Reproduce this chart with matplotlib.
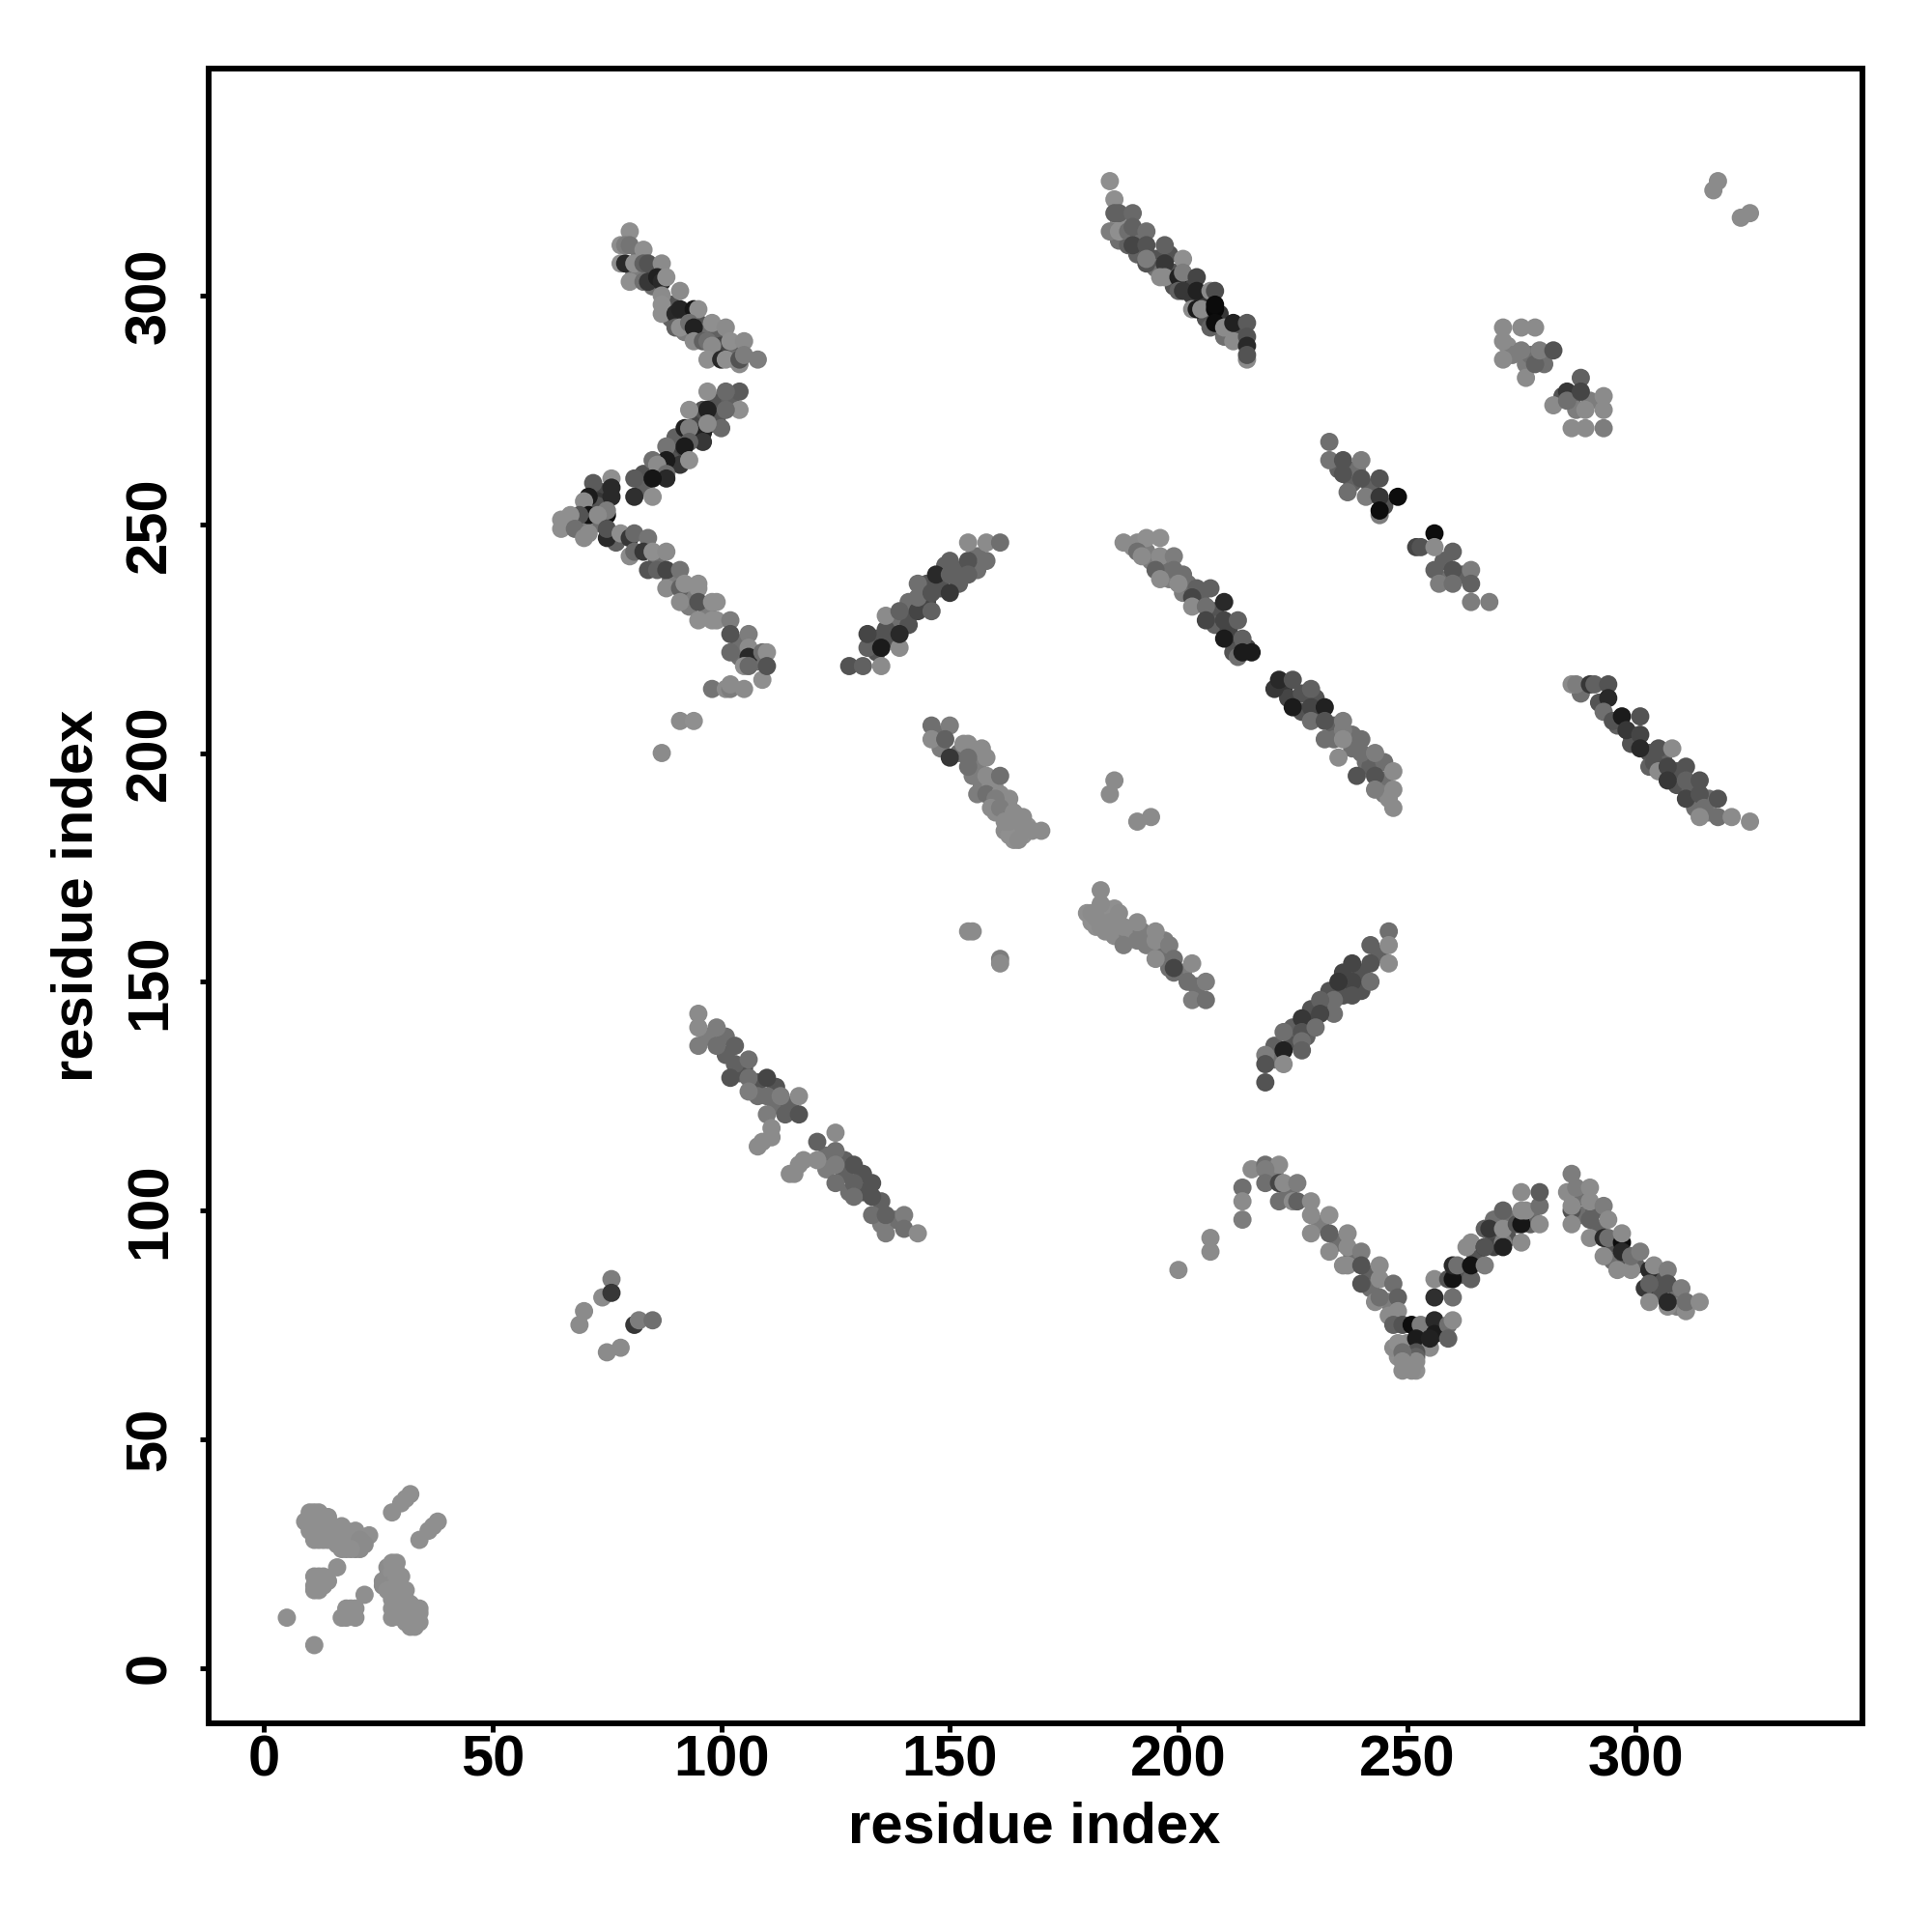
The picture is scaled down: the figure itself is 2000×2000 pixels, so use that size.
import numpy as np
import matplotlib
matplotlib.use("Agg")
import matplotlib.pyplot as plt

# contacts per block: (residue i, residue j, shade)
upper_branch = [
    (81,305,.4),(82,308,.4),(85,305,.3),(82,304,.45),(85,302,.4),(89,298,.3),(89,295,.35),(92,295,.3),(92,292,.45),
    (95,294,.3),(96,292,.4),(99,291,.35),(99,288,.4),(102,288,.35),(103,286,.4),
    (80,314,.55),(78,311,.55),(79,311,.45),(80,311,.42),(83,310,.55),(78,307,.55),(79,307,.15),(81,307,.55),
    (83,307,.35),(84,307,.3),(87,307,.5),(80,303,.55),(83,303,.4),(84,303,.2),(86,304,.12),(87,303,.15),(88,304,.55),
    (87,300,.5),(91,301,.5),(87,298,.52),(87,296,.52),(90,296,.15),(91,297,.13),(94,297,.08),(95,297,.55),
    (90,293,.35),(91,293,.55),(93,294,.4),(94,293,.12),(98,294,.52),(101,293,.5),(94,290,.5),(96,290,.35),(97,290,.4),
    (100,289,.25),(98,289,.5),(102,290,.55),(105,290,.5),(97,286,.55),(100,286,.15),(101,286,.55),(104,285,.5),
    (104,286,.3),(105,287,.45),(108,286,.45),
]
lower_branch = [
    (99,277,.3),(99,273,.3),(102,277,.35),(98,272,.3),(95,273,.25),(94,269,.25),(90,266,.25),(90,269,.35),(89,264,.3),
    (87,262,.25),(83,261,.3),(83,258,.35),(74,257,.25),(73,255,.2),(73,254,.3),(72,250,.35),(70,250,.45),(67,250,.55),
    (74,250,.4),(77,246,.35),
    (104,279,.33),(101,279,.38),(97,279,.52),(104,275,.52),(101,275,.38),(96,275,.3),(97,275,.12),(93,275,.52),
    (100,271,.38),(96,270,.12),(97,272,.5),(92,271,.12),(93,271,.45),(96,268,.2),(93,268,.35),(92,267,.1),(88,267,.42),
    (91,263,.2),(93,264,.52),(88,264,.1),(85,264,.4),(86,263,.5),(88,261,.4),(88,260,.15),(85,260,.08),(81,260,.33),
    (76,260,.52),(72,259,.33),(76,258,.15),(71,256,.1),(76,256,.15),(70,255,.5),(81,256,.17),(85,256,.52),
    (75,252,.05),(75,253,.45),(71,252,.07),(69,252,.3),(73,252,.5),(65,251,.55),(67,252,.55),(65,249,.55),
    (68,249,.4),(70,247,.5),(71,248,.5),(75,247,.15),(75,249,.3),(78,248,.55),(80,247,.2),(81,248,.38),(84,247,.42),
]
descending_tail = [
    (86,242,.4),(89,238,.4),(90,238,.45),(93,235,.45),(93,232,.45),(97,231,.45),(104,224,.4),(104,221,.4),(108,220,.4),
    (80,243,.5),(81,244,.38),(83,244,.2),(85,244,.52),(88,244,.5),(84,240,.3),(86,240,.35),(88,240,.25),(91,240,.42),
    (88,236,.5),(91,236,.35),(92,237,.55),(95,237,.55),(95,236,.55),(91,233,.5),(95,233,.3),(98,233,.55),(99,233,.55),
    (95,229,.52),(98,229,.52),(99,229,.52),(102,229,.45),(102,226,.3),(106,226,.45),(102,222,.38),(106,223,.5),
    (106,221,.15),(105,219,.55),(106,219,.38),(109,222,.4),(110,222,.52),(109,216,.52),(110,219,.3),
    (98,214,.42),(101,214,.5),(102,214,.45),(102,215,.5),(105,214,.5),(91,207,.5),(94,207,.52),(87,200,.5),
]
small_patch = [
    (74,81,.5),(76,85,.45),(76,82,.2),(70,78,.5),(69,75,.5),(75,69,.5),(78,70,.5),(81,75,.2),(82,76,.45),(85,76,.4),
]
left_blob = [
    (9,32,.55),(10,34,.55),(11,34,.55),(12,34,.55),(10,32,.55),(11,32,.55),(12,32,.55),(11,28,.55),(12,28,.55),
    (13,32,.55),(13,30,.55),(15,31,.55),(17,31,.55),(17,29,.55),(17,26,.55),(18,26,.55),(20,30,.55),(20,28,.5),
    (20,26,.5),(22,28,.55),(23,29,.55),(11,17,.55),(11,20,.55),(12,20,.55),(13,20,.55),(12,18,.55),(16,22,.55),
    (5,11,.55),(11,5,.55),(17,11,.55),(18,11,.55),(18,13,.55),(20,13,.55),(20,11,.55),(22,16,.55),
    (28,34,.55),(30,36,.55),(31,37,.55),(32,38,.55),(34,28,.55),(36,30,.55),(37,31,.55),(38,32,.55),
    (11,30,.55),(12,30,.55),(14,30,.55),(15,29,.55),(14,28,.55),(13,28,.55),(16,27,.55),(16,29,.55),(18,28,.55),
    (18,30,.55),(19,27,.55),(19,29,.55),(21,26,.5),(21,27,.5),(21,28,.5),(22,27,.5),(19,26,.55),(14,33,.55),
    (12,31,.55),(10,30,.55),(12,19,.55),(11,18,.55),(13,19,.55),(12,17,.55),(13,18,.55),(14,19,.55),(19,12,.55),(19,13,.55),
]
right_blob = [
    (27,20,.5),(26,19,.5),(26,18,.5),(29,23,.55),(29,21,.55),(30,20,.55),(28,18,.55),(31,17,.55),(29,16,.55),
    (28,13,.55),(28,11,.55),(32,14,.55),(34,12,.55),(32,9,.55),(34,10,.55),(30,11,.55),(31,12,.55),
    (27,22,.5),(28,21,.55),(27,18,.5),(27,17,.55),(28,16,.55),(28,15,.55),(29,18,.55),(30,17,.55),(29,14,.55),
    (30,15,.55),(31,15,.55),(30,13,.55),(31,13,.55),(32,12,.55),(33,11,.55),(33,13,.55),(34,13,.55),(32,10,.55),
    (33,9,.55),(29,20,.55),(28,23,.55),(29,12,.55),(31,10,.55),
]
top_strand = [
    (187,312,.4),(189,311,.35),(191,309,.35),(192,312,.4),(195,308,.3),(195,306,.4),(198,309,.3),(199,305,.3),
    (199,302,.3),(202,303,.25),(203,300,.2),(205,299,.2),(206,295,.3),(209,296,.2),(210,291,.4),(213,292,.3),
    (185,325,.55),(186,321,.55),(187,316,.55),(186,318,.35),(187,318,.35),(190,318,.38),(185,314,.45),(187,314,.55),
    (189,314,.4),(190,315,.35),(193,314,.4),(190,311,.25),(193,311,.3),(197,311,.35),(193,307,.3),(193,308,.45),
    (197,307,.2),(201,308,.55),(196,304,.5),(197,304,.5),(200,304,.12),(201,305,.45),(204,304,.25),(200,301,.35),
    (201,301,.2),(204,301,.12),(207,301,.5),(208,301,.28),(203,297,.5),(204,297,.1),(205,297,.5),(208,297,.03),
    (208,298,.04),(207,293,.35),(208,294,.05),(210,293,.5),(212,294,.12),(215,294,.33),(212,290,.5),(215,291,.3),
    (215,289,.15),(215,286,.5),(215,287,.3),
]
corner_pts = [(318,325,.5),(317,323,.5),(323,317,.5),(325,318,.5)]
upper_right_patch = [
    (272,289,.5),(273,287,.45),(276,285,.45),(277,287,.4),(280,285,.4),(284,278,.3),(286,277,.35),(287,275,.45),(290,277,.45),
    (271,293,.5),(275,293,.5),(278,293,.5),(271,290,.5),(271,286,.5),(275,288,.45),(276,282,.5),(278,285,.35),
    (279,288,.45),(282,288,.3),(282,276,.5),(285,279,.2),(285,277,.4),(288,282,.35),(288,279,.25),(293,278,.5),
    (293,275,.5),(289,275,.5),(286,271,.5),(289,271,.5),(293,271,.45),
]
mid_strand = [
    (235,262,.35),(238,259,.35),(239,262,.4),(242,258,.35),(245,254,.3),(258,242,.35),(262,239,.35),(259,238,.4),
    (233,268,.4),(233,264,.42),(236,264,.3),(240,264,.45),(236,261,.3),(240,260,.3),(244,260,.3),(237,257,.4),
    (241,256,.45),(244,256,.2),(248,256,.05),(244,252,.45),(244,253,.05),(252,245,.25),(253,245,.3),(256,248,.05),
    (256,245,.5),(260,244,.35),(256,240,.35),(260,240,.3),(264,240,.45),(257,237,.45),(260,237,.4),(264,237,.35),
    (264,233,.45),(268,233,.45),
]
right_strand = [
    (288,213,.4),(292,211,.3),(296,206,.35),(299,204,.3),(299,202,.3),(303,200,.3),(303,197,.35),(306,199,.35),
    (309,196,.3),(309,193,.3),(312,192,.35),(316,190,.4),(313,188,.4),(316,187,.45),
    (286,215,.5),(287,215,.45),(290,215,.2),(291,215,.35),(294,215,.3),(294,212,.15),(293,209,.4),(295,207,.3),
    (297,208,.1),(301,208,.3),(298,205,.2),(301,204,.25),(301,201,.15),(305,201,.3),(308,201,.5),(304,198,.3),
    (305,196,.5),(307,197,.25),(311,197,.3),(307,194,.2),(311,194,.35),(314,194,.3),(311,190,.25),(314,191,.3),
    (315,188,.4),(318,190,.3),(314,186,.5),(318,186,.4),(321,186,.5),(325,185,.5),
]
long_strand = [
    (190,245,.5),(193,244,.45),(194,242,.45),(197,241,.4),(198,238,.45),(201,239,.4),(201,235,.45),(202,237,.4),
    (205,233,.35),(208,231,.3),(208,228,.35),(211,227,.25),(212,224,.25),(212,222,.3),(215,223,.25),
    (223,214,.2),(224,212,.25),(227,213,.3),(227,209,.3),(230,212,.3),(231,208,.3),(234,206,.35),(234,203,.4),
    (238,204,.4),(238,201,.4),(241,198,.4),(242,197,.35),(245,198,.4),(245,194,.4),(245,191,.45),(246,190,.5),
    (188,246,.5),(191,246,.5),(193,247,.55),(196,247,.55),(191,244,.4),(192,243,.5),(196,243,.5),(199,243,.45),
    (195,240,.35),(199,240,.4),(196,238,.5),(200,237,.5),(204,236,.35),(207,236,.35),(203,234,.25),(203,232,.5),
    (206,232,.4),(210,233,.15),(206,229,.25),(210,229,.25),(213,229,.35),(210,225,.1),(214,225,.35),(213,221,.4),
    (214,222,.1),(216,222,.1),(221,214,.2),(222,216,.15),(225,216,.3),(229,214,.35),(225,210,.1),(229,210,.25),
    (232,210,.12),(229,207,.4),(232,207,.3),(236,207,.45),(232,203,.4),(236,205,.45),(236,203,.5),(240,203,.4),
    (235,199,.5),(240,200,.4),(243,200,.45),(239,195,.3),(243,195,.3),(247,196,.5),(243,192,.45),(247,192,.5),(247,188,.5),
]
rising_strand = [
    (134,222,.3),(134,225,.3),(137,225,.3),(138,228,.4),(141,228,.3),(141,231,.3),(141,233,.4),(145,233,.25),
    (148,236,.3),(145,237,.3),(149,241,.35),(152,240,.35),(152,237,.35),(156,243,.4),(156,240,.4),
    (128,219,.3),(131,219,.35),(132,223,.35),(132,226,.25),(135,219,.5),(135,223,.1),(139,223,.5),(136,227,.3),
    (136,230,.5),(139,231,.35),(139,226,.15),(143,231,.25),(143,234,.4),(146,231,.35),(143,237,.4),(146,235,.3),
    (150,235,.2),(147,239,.15),(150,239,.35),(150,242,.35),(154,242,.3),(154,239,.35),(154,246,.5),(158,246,.5),
    (158,242,.4),(161,246,.4),
]
dense_strand = [
    (156,197,.45),(155,195,.45),(157,193,.45),(156,191,.45),(159,193,.5),(160,192,.5),(162,190,.5),(160,187,.5),
    (163,190,.5),(164,185,.5),(162,183,.5),(163,182,.55),(164,181,.55),(166,182,.55),(167,184,.55),(165,183,.55),
    (152,200,.4),(148,204,.4),(148,201,.45),(156,200,.45),(157,201,.5),
    (146,206,.4),(146,203,.5),(150,206,.45),(149,203,.35),(150,199,.2),(153,202,.5),(154,202,.5),(154,199,.4),
    (158,199,.5),(154,197,.4),(158,195,.5),(161,195,.4),(158,191,.4),(161,191,.5),(160,190,.45),(163,188,.5),
    (159,188,.5),(161,188,.45),(164,187,.5),(163,185,.5),(162,185,.5),(166,186,.5),(165,181,.5),(166,184,.5),
    (168,183,.5),(170,183,.5),
]
stray_pts = [
    (186,194,.5),(185,191,.5),(194,186,.5),(191,185,.5),(155,161,.5),(154,161,.5),(161,155,.45),(161,154,.5),
]
centre_strand = [
    (180,165,.55),(184,164,.5),(184,161,.5),(186,163,.5),(186,160,.5),(189,160,.45),(190,161,.5),(192,161,.45),
    (193,158,.45),(193,160,.45),(196,157,.45),(197,156,.4),(198,153,.4),(197,159,.45),(201,152,.45),(204,149,.4),
    (184,166,.55),(181,163,.55),(182,162,.55),(186,166,.55),
    (183,170,.5),(181,165,.5),(182,164,.5),(183,167,.5),(185,163,.5),(183,162,.5),(187,165,.5),(188,162,.5),
    (188,158,.45),(191,163,.5),(191,159,.45),(195,161,.5),(195,159,.5),(198,158,.45),(199,155,.4),(195,155,.5),
    (199,152,.4),(199,153,.25),(203,154,.5),(202,150,.4),(206,150,.45),(203,146,.45),(206,146,.4),
]
short_rise = [
    (244,156,.35),(240,152,.3),(240,148,.3),(236,152,.25),(236,147,.3),(233,148,.3),(232,144,.3),(229,144,.3),
    (229,141,.25),(225,137,.3),(225,140,.35),(221,136,.35),(221,133,.4),(228,138,.35),
    (246,161,.4),(246,158,.5),(246,154,.5),(242,158,.35),(242,154,.3),(238,154,.25),(242,150,.4),(238,150,.25),
    (235,150,.2),(238,147,.3),(234,146,.4),(234,143,.4),(231,146,.35),(231,143,.25),(227,142,.2),(227,139,.3),
    (230,140,.4),(223,139,.4),(227,137,.4),(223,135,.12),(227,135,.35),(219,134,.45),(219,132,.3),(223,132,.5),(219,128,.3),
]
lower_strand = [
    (97,138,.45),(101,134,.35),(101,138,.4),(104,130,.35),(105,131,.3),(108,128,.3),(108,125,.4),(112,127,.3),
    (112,123,.4),(115,123,.35),(123,112,.4),(127,111,.35),(127,108,.35),(131,108,.3),(128,104,.4),(131,104,.3),
    (135,102,.35),(138,98,.4),(135,97,.45),(123,109,.45),
    (95,143,.5),(95,140,.5),(95,136,.45),(99,140,.45),(99,136,.4),(103,136,.35),(103,132,.35),(106,133,.4),(102,129,.3),
    (106,129,.4),(110,129,.25),(106,126,.45),(110,125,.4),(113,125,.45),(117,125,.5),(110,121,.45),(114,121,.35),
    (117,121,.3),(111,118,.5),(109,115,.5),(108,114,.5),(111,116,.5),(118,111,.5),(115,108,.5),(116,108,.5),(117,110,.5),
    (121,115,.35),(125,117,.5),(121,111,.5),(125,113,.4),(129,110,.3),(125,110,.45),(129,106,.35),(133,106,.3),
    (125,106,.4),(129,103,.4),(133,103,.3),(133,99,.4),(136,99,.35),(140,99,.45),(136,95,.45),(140,96,.4),(143,95,.5),
]
valley_left = [
    (221,108,.45),(224,104,.4),(231,97,.45),(235,93,.4),(238,90,.4),(242,86,.35),(242,83,.4),(246,80,.45),(246,77,.5),
    (200,87,.5),(207,94,.5),(207,91,.5),(214,105,.4),(214,102,.5),(214,98,.45),(216,109,.5),(219,110,.4),(222,110,.5),
    (219,109,.45),(219,106,.4),(222,106,.25),(223,106,.5),(226,106,.45),(222,102,.4),(225,102,.5),(226,102,.35),
    (229,102,.5),(229,99,.5),(229,95,.5),(233,99,.52),(233,95,.35),(237,95,.5),(233,91,.5),(237,92,.5),(236,88,.5),
    (237,88,.5),(240,91,.45),(240,88,.3),(244,88,.5),(240,84,.3),(244,85,.5),(247,84,.4),(243,80,.5),(244,81,.4),
    (248,81,.35),(248,78,.5),
]
valley_right = [
    (262,86,.3),(265,90,.3),(269,94,.3),(269,92,.25),(272,94,.3),(273,98,.4),(277,99,.4),(277,97,.35),(269,98,.4),
    (250,71,.5),(250,68,.5),(253,71,.3),(250,66,.55),(252,65,.55),(248,68,.55),
    (247,75,.35),(249,75,.3),(251,75,.05),(253,75,.45),(256,76,.15),(256,73,.1),(259,75,.4),(260,76,.5),(252,72,.1),
    (255,70,.5),(255,72,.12),(259,72,.35),(247,70,.5),(248,71,.52),(252,69,.3),(252,68,.35),(252,67,.5),(249,69,.4),
    (249,67,.5),(249,65,.5),(251,65,.5),(256,85,.5),(256,81,.17),(260,81,.4),(259,85,.3),(260,85,.07),(260,88,.15),
    (261,88,.4),(264,85,.35),(264,88,.07),(267,88,.45),(263,92,.5),(264,93,.5),(267,92,.2),(267,92,.3),(271,93,.45),
    (271,92,.12),(275,93,.5),(267,96,.35),(268,96,.2),(271,96,.5),(271,100,.35),(274,97,.3),(275,97,.08),(279,97,.5),
    (275,100,.5),(276,100,.5),(279,101,.4),(275,104,.5),(279,104,.33),
]
last_peak = [
    (288,103,.4),(288,99,.4),(291,100,.35),(292,96,.35),(295,92,.3),(295,89,.4),(298,89,.3),(300,88,.35),(305,85,.3),
    (305,82,.3),(309,81,.4),(309,79,.45),
    (286,108,.45),(285,104,.5),(287,105,.45),(290,105,.5),(286,100,.3),(286,101,.5),(286,97,.5),(290,102,.5),(293,101,.45),
    (290,98,.35),(294,98,.5),(290,94,.5),(293,94,.15),(294,94,.4),(297,93,.05),(297,95,.5),(293,90,.5),(297,91,.15),
    (296,87,.5),(299,87,.5),(299,90,.4),(301,91,.45),(303,87,.15),(304,88,.5),(307,87,.45),(302,83,.2),(303,84,.35),
    (307,84,.3),(310,83,.45),(303,80,.5),(307,79,.5),(307,80,.15),(311,78,.5),(311,80,.4),(314,80,.5),
]

ticks = [0, 50, 100, 150, 200, 250, 300]

blocks = [upper_branch, lower_branch, descending_tail, small_patch, left_blob, right_blob, top_strand,
          corner_pts, upper_right_patch, mid_strand, right_strand, long_strand, rising_strand, dense_strand,
          stray_pts, centre_strand, short_rise, lower_strand, valley_left, valley_right, last_peak]
points = np.array([p for block in blocks for p in block])

plt.rcParams['font.family'] = ['Liberation Sans', 'DejaVu Sans']
plt.rcParams['font.weight'] = 'bold'

fig = plt.figure(figsize=(20, 20), dpi=100)
ax = fig.add_axes([216 / 2000, 1 - 1784 / 2000, (1928 - 216) / 2000, (1784 - 71) / 2000])

# lighter tones top out at the palest grey of the picture
shades = np.minimum(points[:, 2] / 0.92, 0.56)
ax.scatter(points[:, 0], points[:, 1], c=shades, cmap='gray', vmin=0, vmax=1, s=185, linewidths=0)

ax.set_xlim(-12.1, 349.6)
ax.set_ylim(-12.1, 349.6)
ax.set_xticks(ticks)
ax.set_yticks(ticks)
ax.tick_params(axis='x', length=6.5, width=3.6, labelsize=43, pad=2)
ax.tick_params(axis='y', length=6.5, width=3.6, labelsize=43, pad=17)
plt.setp(ax.get_yticklabels(), rotation=90, va='center')
for spine in ax.spines.values():
    spine.set_linewidth(4.3)

fig.text(1071 / 2000, 1 - 1892 / 2000, 'residue index', fontsize=43, ha='center', va='center')
fig.text(80 / 2000, 1 - 927 / 2000, 'residue index', fontsize=43, ha='center', va='center', rotation=90)

fig.savefig('out.png', dpi=100)
